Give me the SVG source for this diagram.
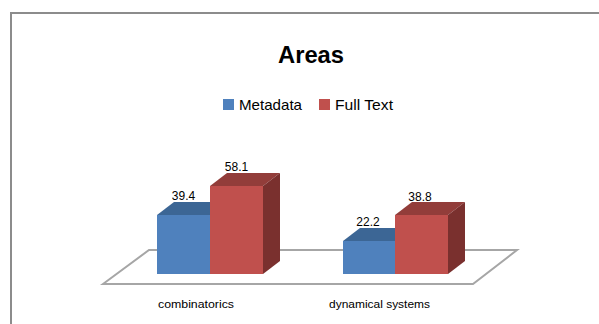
<svg xmlns="http://www.w3.org/2000/svg" width="599" height="324" viewBox="0 0 599 324">
  <style>
    text { font-family: "Liberation Sans", Arial, sans-serif; fill: #000; }
    .title { font-size: 23px; font-weight: bold; }
    .legend { font-size: 15px; }
    .val { font-size: 12px; }
    .cat { font-size: 11px; }
    .frame { fill: none; stroke: #8c8c8c; stroke-width: 2; }
    .floor { fill: #fff; stroke: #a6a6a6; stroke-width: 2; stroke-linejoin: miter; }
    .bFront { fill: #4f81bd; }
    .bTop { fill: #3c6695; }
    .rFront { fill: #c0504d; }
    .rTop { fill: #923d3a; }
    .rSide { fill: #7a302e; }
  </style>
  <rect width="599" height="324" fill="#fff"/>
  <!-- chart frame: top and left edges -->
  <path class="frame" d="M11,330 V13 H600"/>

  <g id="title">
    <text class="title" x="311" y="63" text-anchor="middle" textLength="66" lengthAdjust="spacingAndGlyphs">Areas</text>
  </g>

  <g id="legend">
    <rect class="bFront" x="223" y="99" width="11" height="11"/>
    <text class="legend" x="239" y="110" textLength="63" lengthAdjust="spacingAndGlyphs">Metadata</text>
    <rect class="rFront" x="319" y="99" width="11" height="11"/>
    <text class="legend" x="335" y="110" textLength="58" lengthAdjust="spacingAndGlyphs">Full Text</text>
  </g>

  <g id="floor">
    <polygon class="floor" points="103,284 149,250 517,250 473,284"/>
  </g>

  <!-- combinatorics -->
  <g id="combinatorics-metadata">
    <polygon class="bTop" points="157,215 174,202 227,202 210,215"/>
    <rect class="bFront" x="157" y="215" width="53" height="59"/>
    <text class="val" x="183.5" y="200" text-anchor="middle">39.4</text>
  </g>
  <g id="combinatorics-fulltext">
    <polygon class="rTop" points="210,186 227,173 280,173 263,186"/>
    <polygon class="rSide" points="263,186 280,173 280,261 263,274"/>
    <rect class="rFront" x="210" y="186" width="53" height="88"/>
    <text class="val" x="236.5" y="171" text-anchor="middle">58.1</text>
  </g>

  <!-- dynamical systems -->
  <g id="dynamical-metadata">
    <polygon class="bTop" points="343,241 360,228 412,228 395,241"/>
    <rect class="bFront" x="343" y="241" width="52" height="33"/>
    <text class="val" x="368" y="226" text-anchor="middle">22.2</text>
  </g>
  <g id="dynamical-fulltext">
    <polygon class="rTop" points="395,215 412,202 465,202 448,215"/>
    <polygon class="rSide" points="448,215 465,202 465,261 448,274"/>
    <rect class="rFront" x="395" y="215" width="53" height="59"/>
    <text class="val" x="420" y="201" text-anchor="middle">38.8</text>
  </g>

  <g id="categories">
    <text class="cat" x="196" y="308" text-anchor="middle" textLength="76" lengthAdjust="spacingAndGlyphs">combinatorics</text>
    <text class="cat" x="379.5" y="308" text-anchor="middle" textLength="101" lengthAdjust="spacingAndGlyphs">dynamical systems</text>
  </g>
</svg>
